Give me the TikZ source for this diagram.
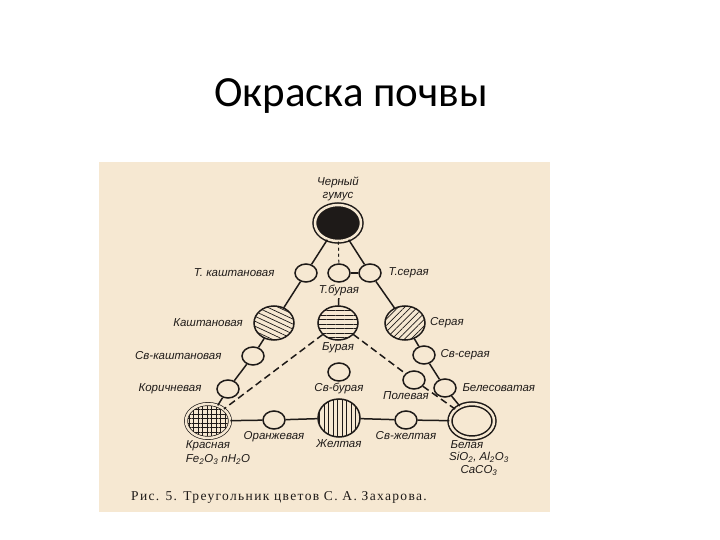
\documentclass[tikz,border=0pt]{standalone}
\usepackage{fontspec}
\setmainfont{Carlito}
\newfontfamily\scanfont{Liberation Sans}
\newfontfamily\capfont{Liberation Serif}[LetterSpace=10]
\usepackage{xcolor}
\usetikzlibrary{positioning}
\usetikzlibrary{shapes.geometric}
\usetikzlibrary{patterns.meta}
\definecolor{paper}{RGB}{246,232,210}
\definecolor{ink}{RGB}{30,26,24}

\begin{document}
\begin{tikzpicture}[x=1pt, y=-1pt, draw=ink, line width=1.5pt, font=\scanfont\itshape\fontsize{11.5}{13}\selectfont]
	\tikzstyle{spot}=[ellipse, draw=ink, minimum width=22pt, minimum height=18pt, inner sep=0pt]
	\tikzstyle{disc}=[ellipse, draw=ink, minimum width=40pt, minimum height=34pt, inner sep=0pt, pattern color=ink]
	\tikzstyle{ring}=[ellipse, draw=ink, double=paper, double distance=2.5pt, minimum width=44pt, minimum height=34pt, inner sep=0pt]
	\tikzstyle{tag}=[text=ink, inner sep=1pt]
	\tikzstyle{guess}=[dash pattern=on 7pt off 4pt]

	\useasboundingbox (0,0) rectangle (720,540);
	\fill[white] (0,0) rectangle (720,540);
	\fill[paper] (99,162) rectangle (550,512);

	\node[font=\normalfont\fontsize{43}{50}\selectfont, text=black, anchor=base] (title) at (351,107) {Окраска почвы};

	% corners of the triangle
	\node[ring, fill=ink, minimum width=46pt, minimum height=36pt] (bl) at (338,223) {};
	\node[ring, pattern={Hatch[angle=0, distance=4.5pt, line width=0.7pt]}, pattern color=ink] (kr) at (208,421) {};
	\node[ring] (wh) at (472,421) {};

	% middle row
	\node[disc, pattern={Lines[angle=-25, distance=4.5pt, line width=0.7pt]}] (ka) at (274,323) {};
	\node[disc, pattern={Lines[angle=0, distance=4.5pt, line width=0.7pt]}] (bu) at (338,323) {};
	\node[disc, pattern={Lines[angle=45, distance=4.5pt, line width=0.7pt]}] (se) at (405,323) {};
	\node[disc, minimum width=42pt, minimum height=38pt, pattern={Lines[angle=90, distance=4.5pt, line width=0.7pt]}] (zh) at (339,418) {};

	% small spots
	\node[spot] (tk) at (306,273) {};
	\node[spot] (tb) at (339,273) {};
	\node[spot] (ts) at (370,273) {};
	\node[spot] (sk) at (253,356) {};
	\node[spot] (ss) at (424,355) {};
	\node[spot] (sb) at (339,372) {};
	\node[spot] (ko) at (228,389) {};
	\node[spot] (be) at (445,388) {};
	\node[spot] (po) at (414,380) {};
	\node[spot] (or) at (274,420) {};
	\node[spot] (sz) at (406,420) {};

	% labels
	\node[tag, above=2pt of bl, align=center] {Черный\\гумус};
	\node[tag, left=18pt of tk] {Т. каштановая};
	\node[tag, right=5pt of ts] {Т.серая};
	\node[tag, below=1pt of tb] (tbl) {Т.бурая};
	\node[tag, left=9pt of ka] {Каштановая};
	\node[tag, right=3pt of se] {Серая};
	\node[tag, below=0pt of bu] {Бурая};
	\node[tag, left=18pt of sk] {Св-каштановая};
	\node[tag, right=3pt of ss] {Св-серая};
	\node[tag, below=0pt of sb] {Св-бурая};
	\node[tag, left=13pt of ko] {Коричневая};
	\node[tag, right=4pt of be] {Белесоватая};
	\node[tag, below=0pt of po, xshift=-8pt] {Полевая};
	\node[tag, below=0pt of kr] (krl) {Красная};
	\node[tag, below=1pt of krl, xshift=10pt] {Fe\textsubscript{2}O\textsubscript{3} nH\textsubscript{2}O};
	\node[tag, below=0pt of or] {Оранжевая};
	\node[tag, below=0pt of zh] {Желтая};
	\node[tag, below=0pt of sz] {Св-желтая};
	\node[tag, below=0pt of wh, xshift=-5pt] (whl) {Белая};
	\node[tag, below=0pt of whl, xshift=12pt, align=center] {SiO\textsubscript{2}, Al\textsubscript{2}O\textsubscript{3}\\CaCO\textsubscript{3}};

	\node[font=\capfont\upshape\fontsize{13.5}{15}\selectfont, text=ink, anchor=base] (cap) at (279,500) {Рис. 5. Треугольник цветов С. А. Захарова.};

	% sides
	\path (bl) edge (tk);
	\path (tk) edge (ka);
	\path (ka) edge (sk);
	\path (sk) edge (ko);
	\path (ko) edge (kr);
	\path (bl) edge (ts);
	\path (ts) edge (se);
	\path (se) edge (ss);
	\path (ss) edge (be);
	\path (be) edge (wh);
	\path (kr) edge (or);
	\path (or) edge (zh);
	\path (zh) edge (sz);
	\path (sz) edge (wh);
	\path (tb) edge (ts);
	\path (tbl) edge (bu);
	\path (bl) edge[dashed, line width=1pt] (tb);
	\path (bu) edge[guess] (kr);
	\path (bu) edge[guess] (po);
	\path (po) edge[guess] (wh);
\end{tikzpicture}
\end{document}
